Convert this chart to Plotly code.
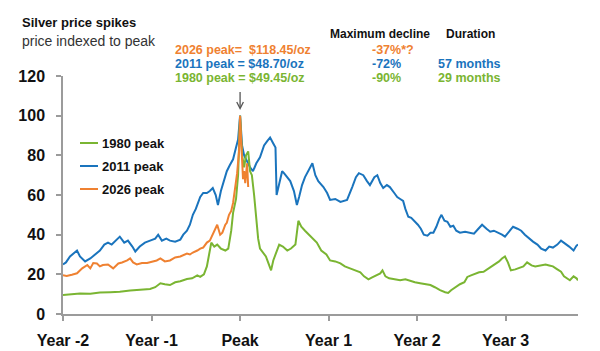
import plotly.graph_objects as go

# ---------------- data (months relative to peak, price indexed to peak = 100) ----------------
m_2011 = [-24.0,-23.6,-23.05,-22.5,-22.1,-21.7,-21.0,-20.3,-19.7,-19.0,
          -18.4,-17.9,-17.4,-16.8,-16.3,-15.7,-15.2,-14.6,-14.2,-13.6,
          -12.9,-12.2,-11.5,-11.1,-10.6,-10.0,-9.5,-8.8,-8.1,-7.7,
          -7.2,-6.8,-6.4,-6.0,-5.4,-5.0,-4.5,-4.1,-3.7,-3.3,
          -3.0,-2.6,-2.2,-1.8,-1.4,-0.95,-0.55,-0.27,0,0.27,
          0.55,0.95,1.35,1.75,2.2,2.7,3.25,3.65,4.07,4.5,
          4.8,4.95,5.4,5.7,5.95,6.4,6.8,7.3,7.7,8.0,8.4,
          8.8,9.35,9.8,10.2,10.6,11.3,11.8,12.2,12.9,13.6,
          14.1,14.5,15.2,15.7,16.1,16.7,17.2,17.6,18.2,18.6,
          19.0,19.4,19.9,20.3,20.9,21.3,21.7,22.1,22.4,22.8,
          23.2,23.6,24.1,24.5,24.9,25.4,25.8,26.2,26.6,27.0,
          27.3,27.7,28.1,28.5,28.9,29.3,29.8,30.5,31.2,31.7,
          32.3,32.8,33.4,33.9,34.4,35.0,35.5,35.9,36.5,37.0,
          37.6,38.1,38.6,39.2,39.7,40.3,40.8,41.4,41.9,42.4,
          43.0,43.5,44.1,44.6,45.2,45.6,45.8]
v_2011 = [25,26,29,31,32,29,26.5,28,30,32,
          35,36,35,37,39,36,37,34,31.5,34,
          36,37,38,40,37,38,37,36.5,37.5,40,
          42,45,50,53,59,61,61,62,63.5,60,
          55,62,67,72,75,78,84,88,100,85,
          80,77,74,72,76,79,85,87,89,86,
          84,60,68,72,71,69,67,62,55,59,65,
          69,73,76,70,67,64,61,57.5,58,56.5,
          57,57.5,64,69,71,70,67,65,69,70,
          66,63.5,65,64,61,59,58,57,53,49,
          48.5,47,45,43,40,39.5,41,41,44,48,
          50,47,46.5,44,44.5,42,41,41.5,41,40.5,
          43,45,43,41.5,42,41,40,39,42,44,
          43,42,40,38,36.5,35,33,32,34,33.5,
          35,37,35.5,34,32,34.5,35]

m_1980 = [-24,-23.05,-21.7,-20.3,-19.0,-17.6,-16.3,-14.9,-13.6,-12.2,
          -11.5,-10.8,-10.2,-9.5,-8.8,-8.1,-7.2,-6.5,-5.8,-5.4,
          -4.9,-4.5,-4.2,-3.9,-3.5,-3.1,-2.6,-2.0,-1.6,-1.2,
          -0.95,-0.55,-0.27,0,0.27,0.55,0.8,1.1,1.35,1.6,
          1.9,2.2,2.45,2.7,3.1,3.5,3.9,4.2,4.5,4.9,
          5.3,5.8,6.4,6.9,7.5,7.9,8.3,8.8,9.35,9.9,
          10.4,11.0,11.7,12.2,12.9,13.6,14.2,14.9,15.6,16.3,
          16.8,17.4,17.9,18.4,19.0,19.3,19.7,20.2,20.9,21.7,
          22.4,23.1,23.7,24.4,25.1,25.8,26.4,27.1,27.8,28.2,
          28.6,29.2,29.8,30.4,30.8,31.3,31.9,32.4,33.0,33.5,
          34.1,34.6,35.1,35.5,35.9,36.3,36.7,37.3,37.8,38.4,
          38.9,39.5,40.0,40.7,41.4,41.9,42.4,43.0,43.5,43.9,
          44.3,44.7,45.2,45.6,45.8]
v_1980 = [9.6,10,10.3,10.2,10.8,11,11.2,11.8,12.2,12.6,
          13.5,15.5,15,14.6,16,16.5,17.6,18,19.5,18.7,
          20,24,30,36,34,35,33,32,33,42,
          51,58,70,100,80,74,80,82,72,70,
          60,47,38,33,31,29,25,22,27,31,
          35,34,32,33,35,47,44,42,40,38,
          36,32,30,27,26.5,25.5,24,23,22,21,
          19,17.5,18.5,19.5,20.5,22,19,18,17.5,17,
          17.5,16.5,16,15.5,15,14.6,13.5,12,11,10.6,
          12,13.6,15,16,18.7,19.5,20.5,21,21.3,22.5,
          24,25,26.5,28,29,26,22,22.5,23,24,
          26,24.5,24,24.5,25,24.5,24,22.5,21.3,19,
          18,17,19,18,17]

m_2026 = [-24,-23.5,-22.8,-22.1,-21.4,-20.7,-20.3,-19.9,-19.4,-19.0,
          -18.6,-17.9,-17.2,-16.5,-16.0,-15.3,-14.9,-14.5,-14.0,-13.3,
          -12.6,-11.9,-11.3,-10.8,-10.2,-9.5,-8.8,-8.1,-7.7,-7.2,
          -6.8,-6.4,-5.8,-5.4,-5.0,-4.5,-4.1,-3.7,-3.1,-2.7,
          -2.4,-2.0,-1.8,-1.5,-1.2,-0.95,-0.7,-0.4,-0.14,0,
          0.14,0.27,0.4,0.55,0.7,0.8,0.95,1.1]
v_2026 = [19.5,19.2,19.8,20.5,23,24.7,23,25.7,25.5,24,
          24.7,25,23,25.5,26,27,28,26,25,25.7,
          25.7,26.5,27,28,26.5,27,28.5,29,29.7,30.5,
          30,31,32,33,33.5,36,37,40,45,40,
          41,45,46,50,52,56,62,71,82,100,
          88,77,68,72,66,70,76,64]

x_tickvals = [-24, -12, 0, 12, 24, 36]
x_ticktext = ["Year -2", "Year -1", "Peak", "Year 1", "Year 2", "Year 3"]
y_tickvals = [0, 20, 40, 60, 80, 100, 120]

series_names = ["1980 peak", "2011 peak", "2026 peak"]
peak_labels = ["2026 peak=\u00a0 $118.45/oz", "2011 peak = $48.70/oz", "1980 peak = $49.45/oz"]
declines = ["-37%*?", "-72%", "-90%"]
durations = ["", "57 months", "29 months"]

# ---------------- style ----------------
GREEN = "#7ab532"
BLUE = "#1a74bd"
ORANGE = "#ef8131"
AXIS = "#9b9b9b"
FONT = "Liberation Sans, Arial, sans-serif"

W, H = 600, 351
L, R, T, B = 63, 22, 76, 37
PW, PH = W - L - R, H - T - B


def px(x):
    return (x - L) / PW


def py(y):
    return (H - B - y) / PH


fig = go.Figure()
fig.add_trace(go.Scatter(x=m_2011, y=v_2011, mode="lines", name=series_names[1],
                         line=dict(color=BLUE, width=2)))
fig.add_trace(go.Scatter(x=m_1980, y=v_1980, mode="lines", name=series_names[0],
                         line=dict(color=GREEN, width=2)))
fig.add_trace(go.Scatter(x=m_2026, y=v_2026, mode="lines", name=series_names[2],
                         line=dict(color=ORANGE, width=2)))

ann = []
# title / subtitle
ann.append(dict(text="<b>Silver price spikes</b>", x=px(20), y=py(23), xref="paper", yref="paper",
                xanchor="left", yanchor="middle", showarrow=False,
                font=dict(family=FONT, size=13, color="#111111")))
ann.append(dict(text="price indexed to peak", x=px(20), y=py(41), xref="paper", yref="paper",
                xanchor="left", yanchor="middle", showarrow=False,
                font=dict(family=FONT, size=14, color="#333333")))
# header
ann.append(dict(text="<b>Maximum decline</b>", x=px(328), y=py(34), xref="paper", yref="paper",
                xanchor="left", yanchor="middle", showarrow=False,
                font=dict(family=FONT, size=12, color="#111111")))
ann.append(dict(text="<b>Duration</b>", x=px(444), y=py(34), xref="paper", yref="paper",
                xanchor="left", yanchor="middle", showarrow=False,
                font=dict(family=FONT, size=12, color="#111111")))
row_y = [50, 64, 78]
row_col = [ORANGE, BLUE, GREEN]
for i in range(3):
    ann.append(dict(text="<b>%s</b>" % peak_labels[i], x=px(173), y=py(row_y[i]), xref="paper", yref="paper",
                    xanchor="left", yanchor="middle", showarrow=False,
                    font=dict(family=FONT, size=12.5, color=row_col[i])))
    ann.append(dict(text="<b>%s</b>" % declines[i], x=px(370), y=py(row_y[i]), xref="paper", yref="paper",
                    xanchor="left", yanchor="middle", showarrow=False,
                    font=dict(family=FONT, size=12.5, color=row_col[i])))
    if durations[i]:
        ann.append(dict(text="<b>%s</b>" % durations[i], x=px(436), y=py(row_y[i]), xref="paper", yref="paper",
                        xanchor="left", yanchor="middle", showarrow=False,
                        font=dict(family=FONT, size=12.5, color=row_col[i])))

shapes = []
# arrow pointing at the peak (open chevron head)
ARROW = "#555555"
shapes.append(dict(type="line", xref="x", yref="paper", x0=0, x1=0, y0=py(92), y1=py(108),
                   line=dict(color=ARROW, width=1.3)))
shapes.append(dict(type="path", xref="x", yref="paper",
                   path="M %f,%f L 0,%f L %f,%f" % (-0.45, py(102), py(108.5), 0.45, py(102)),
                   line=dict(color=ARROW, width=1.3)))

# manual legend
leg_y = [143, 166, 189]
leg_col = [GREEN, BLUE, ORANGE]
for i in range(3):
    shapes.append(dict(type="line", xref="paper", yref="paper", x0=px(80), x1=px(98),
                       y0=py(leg_y[i]), y1=py(leg_y[i]), line=dict(color=leg_col[i], width=2)))
    ann.append(dict(text="<b>%s</b>" % series_names[i], x=px(100), y=py(leg_y[i]), xref="paper", yref="paper",
                    xanchor="left", yanchor="middle", showarrow=False,
                    font=dict(family=FONT, size=13, color="#111111")))

fig.update_layout(
    width=W, height=H,
    margin=dict(l=L, r=R, t=T, b=B),
    paper_bgcolor="white", plot_bgcolor="white",
    showlegend=False,
    annotations=ann, shapes=shapes,
    font=dict(family=FONT),
)
fig.update_xaxes(range=[-24, 45.8], tickvals=x_tickvals, ticktext=x_ticktext, automargin=False,
                 showgrid=False, zeroline=False, showline=True, linecolor=AXIS, linewidth=1.5,
                 ticks="outside", ticklen=5, tickwidth=1.5, tickcolor=AXIS, ticklabelstandoff=6,
                 tickfont=dict(family=FONT, size=16, color="#111111", weight="bold"))
fig.update_yaxes(range=[0, 120], tickvals=y_tickvals, automargin=False,
                 showgrid=False, zeroline=False, showline=True, linecolor=AXIS, linewidth=1.5,
                 ticks="outside", ticklen=5, tickwidth=1.5, tickcolor=AXIS, ticklabelstandoff=8,
                 tickfont=dict(family=FONT, size=16, color="#111111", weight="bold"))

fig.write_html("out.html")
